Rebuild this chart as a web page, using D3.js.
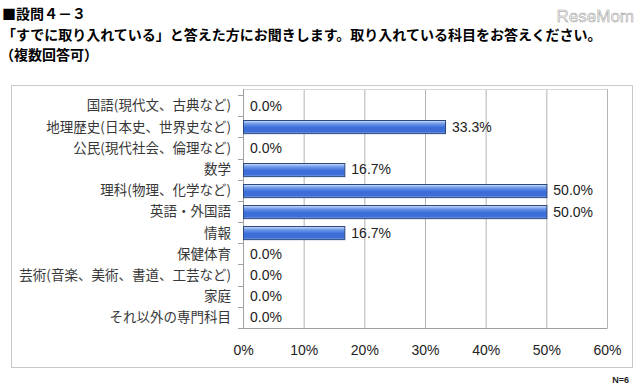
<!DOCTYPE html>
<html lang="ja">
<head>
  <meta charset="UTF-8">
  <title>設問4-3</title>
  <style>
    body {
      margin: 0;
      background: #fff;
      overflow: hidden;
    }
    svg {
      display: block;
    }
    .title {
      font-family: "Noto Sans CJK JP", sans-serif;
      font-weight: bold;
      font-size: 14px;
      fill: #000;
    }
    .cat-label {
      font-family: "Noto Sans CJK JP", sans-serif;
      font-size: 13.5px;
      fill: #383838;
    }
    .val-label, .x-axis text {
      font-family: "Liberation Sans", Arial, sans-serif;
      font-size: 14px;
      fill: #222;
    }
  </style>
</head>
<body>
  <svg width="640" height="389"></svg>

  <script src="https://d3js.org/d3.v7.min.js"></script>
  <script>
    // data
    const categories = [
      "国語(現代文、古典など)",
      "地理歴史(日本史、世界史など)",
      "公民(現代社会、倫理など)",
      "数学",
      "理科(物理、化学など)",
      "英語・外国語",
      "情報",
      "保健体育",
      "芸術(音楽、美術、書道、工芸など)",
      "家庭",
      "それ以外の専門科目"
    ];
    const values = [0.0, 33.3, 0.0, 16.7, 50.0, 50.0, 16.7, 0.0, 0.0, 0.0, 0.0];
    const xTicks = [0, 10, 20, 30, 40, 50, 60];
    const titleLines = [
      "■設問４－３",
      "「すでに取り入れている」と答えた方にお聞きします。取り入れている科目をお答えください。",
      "（複数回答可）"
    ];

    const svg = d3.select("svg");

    // gradient for the bars (excel style)
    const defs = svg.append("defs");
    const grad = defs.append("linearGradient")
      .attr("id", "barGrad")
      .attr("x1", 0).attr("y1", 0).attr("x2", 0).attr("y2", 1);
    [["0%", "#d4e2fa"], ["25%", "#6e98ea"], ["55%", "#3b6cd8"], ["85%", "#3f6fd6"], ["100%", "#8aaaf0"]]
      .forEach(([o, c]) => grad.append("stop").attr("offset", o).attr("stop-color", c));

    // titles
    svg.selectAll("text.title")
      .data(titleLines)
      .join("text")
      .attr("class", "title")
      .attr("x", d => d.startsWith("（") ? 0 : 2)
      .attr("y", (d, i) => 19 + i * 20.5)
      .text(d => d);

    // watermark
    svg.append("text")
      .attr("x", 634)
      .attr("y", 22)
      .attr("text-anchor", "end")
      .style("font-family", "Liberation Sans, Arial, sans-serif")
      .style("font-size", "17px")
      .attr("fill", "#f4f4f4")
      .attr("stroke", "#999")
      .attr("stroke-width", 0.5)
      .text("ReseMom");

    // outer chart frame
    svg.append("rect")
      .attr("x", 11.5).attr("y", 85.5)
      .attr("width", 621).attr("height", 282)
      .attr("fill", "#fff")
      .attr("stroke", "#c8c8c8")
      .attr("stroke-width", 1);

    const plotTop = 89, plotBottom = 328;

    const x = d3.scaleLinear()
      .domain([0, 60])
      .range([243, 607]);

    const y = d3.scaleBand()
      .domain(categories)
      .range([95, plotBottom])
      .paddingInner(0.38)
      .paddingOuter(0.19);

    // gridlines
    svg.append("g")
      .selectAll("line")
      .data(xTicks.slice(1))
      .join("line")
      .attr("x1", d => x(d) + 0.5).attr("x2", d => x(d) + 0.5)
      .attr("y1", plotTop).attr("y2", plotBottom)
      .attr("stroke", "#b4b4b4");

    // plot top border
    svg.append("line")
      .attr("x1", x(0)).attr("x2", x(60) + 0.5)
      .attr("y1", plotTop + 0.5).attr("y2", plotTop + 0.5)
      .attr("stroke", "#d8d8d8");

    // bottom axis line
    svg.append("line")
      .attr("x1", x(0)).attr("x2", x(60) + 0.5)
      .attr("y1", plotBottom + 0.5).attr("y2", plotBottom + 0.5)
      .attr("stroke", "#a0a0a0");

    // left axis with tick marks at band edges
    const step = y.step();
    const yEdges = d3.range(categories.length + 1).map(i => y.range()[0] + i * step);
    svg.append("line")
      .attr("x1", x(0) + 0.5).attr("x2", x(0) + 0.5)
      .attr("y1", plotTop).attr("y2", plotBottom)
      .attr("stroke", "#a0a0a0");
    svg.append("g")
      .selectAll("line")
      .data(yEdges)
      .join("line")
      .attr("x1", x(0) - 5).attr("x2", x(0))
      .attr("y1", d => Math.round(d) + 0.5).attr("y2", d => Math.round(d) + 0.5)
      .attr("stroke", "#a0a0a0");

    // category labels
    svg.append("g")
      .selectAll("text")
      .data(categories)
      .join("text")
      .attr("class", "cat-label")
      .attr("x", x(0) - 12)
      .attr("y", d => y(d) + y.bandwidth() / 2)
      .attr("dy", "0.36em")
      .attr("text-anchor", "end")
      .text(d => d);

    const rows = categories.map((c, i) => ({ c, v: values[i] }));

    // bars
    svg.append("g")
      .selectAll("rect")
      .data(rows.filter(d => d.v > 0))
      .join("rect")
      .attr("x", x(0) + 0.5)
      .attr("y", d => Math.round(y(d.c)) + 0.5)
      .attr("width", d => x(d.v) - x(0))
      .attr("height", y.bandwidth())
      .attr("fill", "url(#barGrad)")
      .attr("stroke", "#2c4a7e")
      .attr("stroke-width", 1);

    // value labels
    svg.append("g")
      .selectAll("text")
      .data(rows)
      .join("text")
      .attr("class", "val-label")
      .attr("x", d => x(d.v) + 7)
      .attr("y", d => y(d.c) + y.bandwidth() / 2)
      .attr("dy", "0.36em")
      .text(d => d.v.toFixed(1) + "%");

    // x axis labels
    const xAxis = d3.axisBottom(x)
      .tickValues(xTicks)
      .tickFormat(d => d + "%")
      .tickSize(0)
      .tickPadding(0);
    const gx = svg.append("g")
      .attr("class", "x-axis")
      .attr("transform", `translate(0,${plotBottom + 17})`)
      .call(xAxis);
    gx.select(".domain").remove();
    gx.selectAll("text").attr("dy", "0.71em");

    // sample size
    svg.append("text")
      .attr("x", 629)
      .attr("y", 383)
      .attr("text-anchor", "end")
      .style("font-family", "Liberation Sans, Arial, sans-serif")
      .style("font-size", "9px")
      .style("font-weight", "bold")
      .attr("fill", "#222")
      .text("N=6");
  </script>
</body>
</html>
